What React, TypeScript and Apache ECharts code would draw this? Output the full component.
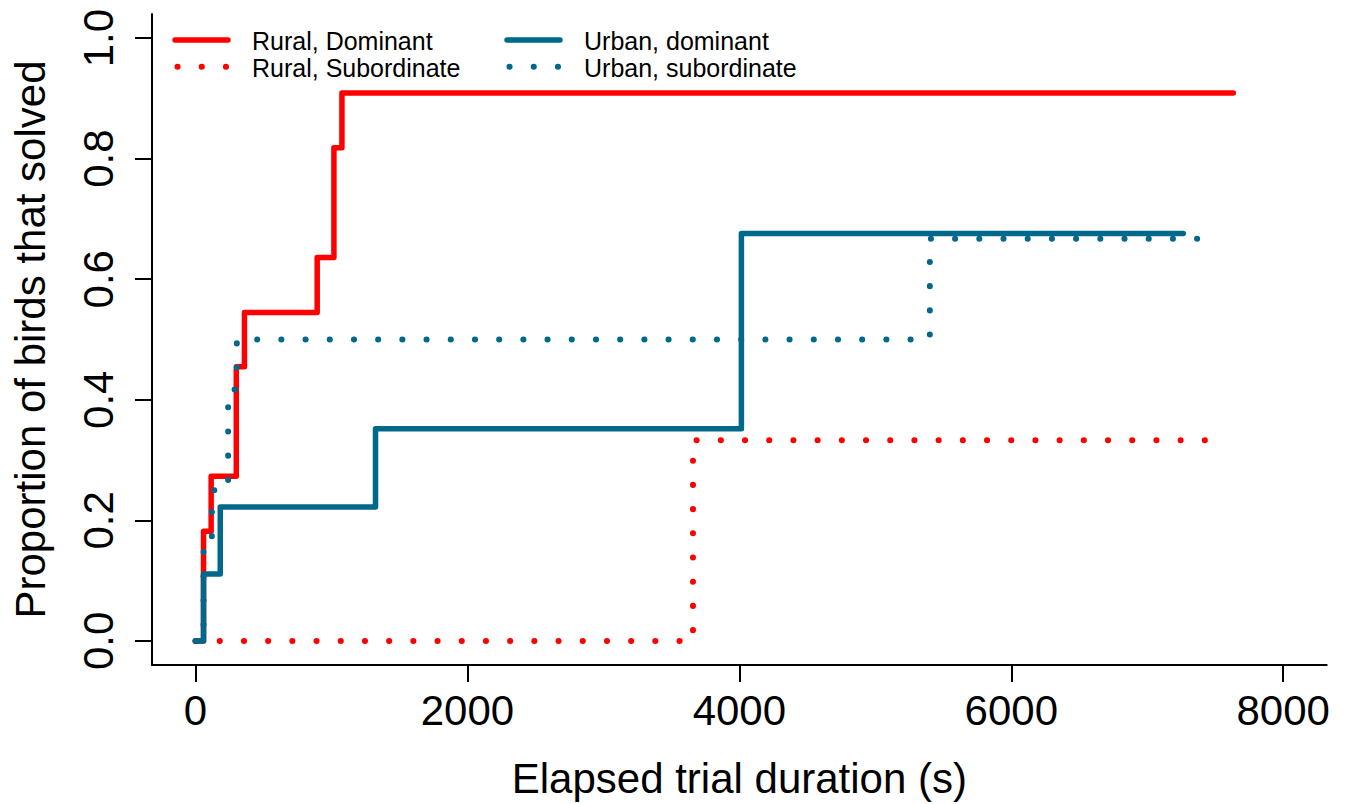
import React, { useEffect, useRef } from "react";
import * as echarts from "echarts";

const FONT = '"Liberation Sans", Arial, Helvetica, sans-serif';
const RED = "#FF0000";
const BLUE = "#00688B";

const xTicks = [0, 2000, 4000, 6000, 8000];
const yTicks = [0, 0.2, 0.4, 0.6, 0.8, 1.0];

const seriesNames = ["Rural, Dominant", "Rural, Subordinate", "Urban, dominant", "Urban, subordinate"];

const ruralDominantTime = [0, 59, 115, 300, 360, 895, 1018, 1077, 7633];
const ruralDominantProp = [0, 0.182, 0.273, 0.455, 0.545, 0.636, 0.818, 0.909, 0.909];

const ruralSubordinateTime = [0, 3659, 7450];
const ruralSubordinateProp = [0, 0.333, 0.333];

const urbanDominantTime = [0, 59, 182, 1324, 4015, 7265];
const urbanDominantProp = [0, 0.111, 0.222, 0.352, 0.676, 0.676];

const urbanSubordinateTime = [0, 59, 120, 240, 304, 5401, 7390];
const urbanSubordinateProp = [0, 0.167, 0.25, 0.417, 0.5, 0.667, 0.667];

const pairs = (t: number[], p: number[]) => t.map((v, i) => [v, p[i]]);

const DOT = [0.1, 24.1];

function makeSeries(name: string, t: number[], p: number[], color: string, dotted: boolean) {
  return {
    name,
    type: "line",
    step: "end",
    data: pairs(t, p),
    showSymbol: false,
    symbol: "none",
    lineStyle: {
      color,
      width: dotted ? 6 : 5.5,
      type: dotted ? DOT : "solid",
      cap: "round",
      join: "round",
    },
  };
}

function legendItem(x: number, y: number, color: string, dotted: boolean, label: string) {
  return [
    {
      type: "line",
      shape: dotted ? { x1: x + 2.5, y1: y, x2: x + 51, y2: y } : { x1: x, y1: y, x2: x + 53, y2: y },
      style: dotted
        ? { stroke: color, lineWidth: 6, lineCap: "round", lineDash: [0.1, 24.1] }
        : { stroke: color, lineWidth: 5.5, lineCap: "round" },
    },
    {
      type: "text",
      x: x + 77,
      y: y + 1,
      style: {
        text: label,
        fontSize: 25,
        fontFamily: FONT,
        fill: "#000",
        align: "left",
        verticalAlign: "middle",
      },
    },
  ];
}

export default function App() {
  const ref = useRef<HTMLDivElement>(null);
  useEffect(() => {
    const chart = echarts.init(ref.current!, null, { renderer: "svg" });
    const axisText = { fontSize: 42, color: "#000", fontFamily: FONT };
    chart.setOption({
      animation: false,
      backgroundColor: "#fff",
      textStyle: { fontFamily: FONT },
      grid: { left: 152, right: 21.3, top: 14, bottom: 136, containLabel: false },
      xAxis: {
        type: "value",
        min: -320,
        max: 8320,
        axisLine: { show: true, onZero: false, lineStyle: { color: "#000", width: 2 } },
        axisTick: { show: true, length: 17, lineStyle: { color: "#000", width: 2 }, customValues: xTicks },
        axisLabel: { ...axisText, customValues: xTicks, margin: 24, formatter: (v: number) => String(v) },
        splitLine: { show: false },
        name: "Elapsed trial duration (s)",
        nameLocation: "middle",
        nameGap: 92,
        nameTextStyle: axisText,
      },
      yAxis: {
        type: "value",
        min: -0.04,
        max: 1.04,
        axisLine: { show: true, onZero: false, lineStyle: { color: "#000", width: 2 } },
        axisTick: { show: true, length: 17, lineStyle: { color: "#000", width: 2 }, customValues: yTicks },
        axisLabel: {
          ...axisText,
          customValues: yTicks,
          rotate: 90,
          margin: 33,
          formatter: (v: number) => v.toFixed(1),
        },
        splitLine: { show: false },
        name: "Proportion of birds that solved",
        nameLocation: "middle",
        nameGap: 101,
        nameRotate: 90,
        nameTextStyle: axisText,
      },
      series: [
        makeSeries(seriesNames[0], ruralDominantTime, ruralDominantProp, RED, false),
        makeSeries(seriesNames[1], ruralSubordinateTime, ruralSubordinateProp, RED, true),
        makeSeries(seriesNames[2], urbanDominantTime, urbanDominantProp, BLUE, false),
        makeSeries(seriesNames[3], urbanSubordinateTime, urbanSubordinateProp, BLUE, true),
      ],
      graphic: [
        ...legendItem(175, 40, RED, false, seriesNames[0]),
        ...legendItem(175, 66.7, RED, true, seriesNames[1]),
        ...legendItem(507, 40, BLUE, false, seriesNames[2]),
        ...legendItem(507, 66.7, BLUE, true, seriesNames[3]),
      ],
    });
    return () => chart.dispose();
  }, []);
  return (
    <div
      ref={ref}
      style={{ position: "absolute", left: 0, top: 0, width: 1348, height: 804, background: "#fff" }}
    />
  );
}
